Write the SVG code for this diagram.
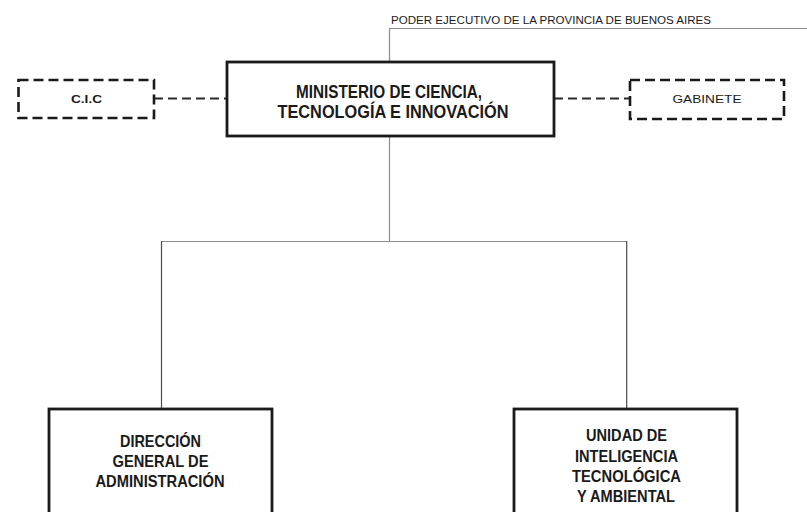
<svg xmlns="http://www.w3.org/2000/svg" width="807" height="512" viewBox="0 0 807 512">
<style>
  .box { fill: #ffffff; stroke: #1a1a1a; stroke-width: 2.8; }
  .dbox { fill: #ffffff; stroke: #1a1a1a; stroke-width: 2.6; stroke-dasharray: 10 5; }
  .dash { fill: none; stroke: #2a2a2a; stroke-width: 1.8; stroke-dasharray: 9 5; }
  .line { fill: none; stroke: #8c8c8c; stroke-width: 1.2; }
  .dline { fill: none; stroke: #4a4a4a; stroke-width: 1.2; }
  .t { font-family: "Liberation Sans", Arial, sans-serif; fill: #1a1a1a; text-anchor: middle; }
  .b { font-weight: bold; }
  .s { font-size: 16.5px; }
</style>
<rect width="807" height="512" fill="#ffffff"/>
<g id="connectors">
  <polyline class="line" points="389.5,62 389.5,28.5 807,28.5"/>
  <line class="line" x1="389.5" y1="136" x2="389.5" y2="241.5"/>
  <line class="line" x1="161" y1="241.5" x2="627" y2="241.5"/>
  <line class="dline" x1="161.5" y1="241" x2="161.5" y2="409"/>
  <line class="dline" x1="626.7" y1="241" x2="626.7" y2="409"/>
  <line class="dash" x1="154" y1="98.5" x2="227" y2="98.5"/>
  <line class="dash" x1="554" y1="98.5" x2="630" y2="98.5"/>
</g>
<g id="poder">
  <text class="t" x="391" y="24" font-size="10" style="text-anchor:start" textLength="320" lengthAdjust="spacingAndGlyphs">PODER EJECUTIVO DE LA PROVINCIA DE BUENOS AIRES</text>
</g>
<g id="ministerio">
  <rect class="box" x="227" y="62" width="327" height="74"/>
  <text class="t b" x="389" y="97.5" font-size="19" textLength="186" lengthAdjust="spacingAndGlyphs">MINISTERIO DE CIENCIA,</text>
  <text class="t b" x="393" y="118" font-size="19" textLength="231" lengthAdjust="spacingAndGlyphs">TECNOLOGÍA E INNOVACIÓN</text>
</g>
<g id="cic">
  <rect class="dbox" x="18.5" y="80" width="135.5" height="38"/>
  <text class="t b" x="86.5" y="103.3" font-size="11.5" textLength="31" lengthAdjust="spacingAndGlyphs">C.I.C</text>
</g>
<g id="gabinete">
  <rect class="dbox" x="630" y="80" width="154" height="39"/>
  <text class="t" x="707" y="103.3" font-size="11.5" textLength="69" lengthAdjust="spacingAndGlyphs">GABINETE</text>
</g>
<g id="direccion">
  <rect class="box" x="49" y="409" width="223" height="110"/>
  <text class="t b s" x="160.5" y="446.5" textLength="81" lengthAdjust="spacingAndGlyphs">DIRECCIÓN</text>
  <text class="t b s" x="160.5" y="467" textLength="96" lengthAdjust="spacingAndGlyphs">GENERAL DE</text>
  <text class="t b s" x="160" y="487" textLength="129" lengthAdjust="spacingAndGlyphs">ADMINISTRACIÓN</text>
</g>
<g id="unidad">
  <rect class="box" x="514" y="409" width="223" height="110"/>
  <text class="t b s" x="626.5" y="441" textLength="81" lengthAdjust="spacingAndGlyphs">UNIDAD DE</text>
  <text class="t b s" x="626.5" y="462" textLength="103" lengthAdjust="spacingAndGlyphs">INTELIGENCIA</text>
  <text class="t b s" x="626.5" y="482" textLength="109" lengthAdjust="spacingAndGlyphs">TECNOLÓGICA</text>
  <text class="t b s" x="626" y="502" textLength="98" lengthAdjust="spacingAndGlyphs">Y AMBIENTAL</text>
</g>
</svg>
